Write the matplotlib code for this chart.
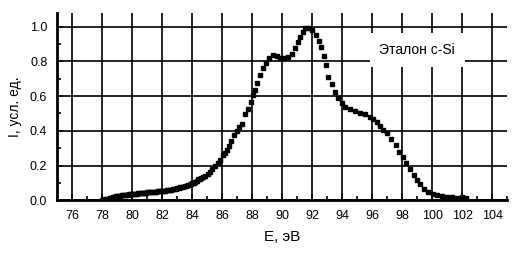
import matplotlib
matplotlib.use("Agg")
import matplotlib.pyplot as plt
from matplotlib.ticker import MultipleLocator

plt.rcParams["font.family"] = ["Liberation Sans", "DejaVu Sans"]

# photon energy, eV
energy = [
    78.0, 78.1, 78.2, 78.3, 78.4, 78.5, 78.6, 78.7, 78.8, 78.9,
    79.0, 79.1, 79.2, 79.3, 79.4, 79.5, 79.6, 79.7, 79.8, 79.9,
    80.0, 80.1, 80.2, 80.3, 80.4, 80.5, 80.6, 80.7, 80.8, 80.9,
    81.0, 81.1, 81.2, 81.3, 81.4, 81.5, 81.6, 81.7, 81.8, 81.9,
    82.0, 82.1, 82.2, 82.3, 82.4, 82.5, 82.6, 82.7, 82.8, 82.9,
    83.0, 83.1, 83.2, 83.3, 83.4, 83.5, 83.6, 83.7, 83.8, 83.9,
    84.0, 84.1, 84.2, 84.3, 84.4, 84.5, 84.6, 84.7, 84.87, 85.05,
    85.2, 85.35, 85.53, 85.7, 85.87, 86.09, 86.22, 86.35, 86.48, 86.6,
    86.82, 87.02, 87.15, 87.31, 87.53, 87.76, 87.92, 88.09, 88.2, 88.33,
    88.53, 88.75, 88.91, 89.13, 89.42, 89.64, 89.87, 90.15, 90.42, 90.64,
    90.87, 91.04, 91.2, 91.38, 91.53, 91.76, 91.98, 92.27, 92.45, 92.6,
    92.8, 92.91, 93.09, 93.31, 93.53, 93.75, 93.98, 94.2, 94.53, 94.87,
    95.2, 95.53, 95.87, 96.09, 96.31, 96.53, 96.75, 96.98, 97.27, 97.6,
    97.82, 98.04, 98.27, 98.53, 98.76, 98.98, 99.2, 99.49, 99.75, 100.04,
    100.31, 100.64, 100.98, 101.31, 101.64, 101.98, 102.27,
]
# intensity, arb. units
intensity = [
    0.000, 0.003, 0.005, 0.008, 0.010, 0.013, 0.015, 0.018, 0.020, 0.022,
    0.024, 0.026, 0.027, 0.028, 0.030, 0.031, 0.032, 0.033, 0.034, 0.035,
    0.036, 0.037, 0.038, 0.039, 0.040, 0.041, 0.041, 0.042, 0.043, 0.044,
    0.045, 0.045, 0.046, 0.047, 0.048, 0.049, 0.050, 0.051, 0.052, 0.053,
    0.054, 0.055, 0.056, 0.057, 0.059, 0.060, 0.062, 0.064, 0.066, 0.068,
    0.070, 0.072, 0.074, 0.076, 0.079, 0.082, 0.085, 0.088, 0.091, 0.094,
    0.097, 0.102, 0.108, 0.114, 0.120, 0.125, 0.131, 0.136, 0.142, 0.152,
    0.165, 0.180, 0.198, 0.214, 0.232, 0.261, 0.275, 0.290, 0.312, 0.343,
    0.374, 0.401, 0.420, 0.440, 0.497, 0.524, 0.565, 0.607, 0.635, 0.677,
    0.720, 0.760, 0.793, 0.822, 0.837, 0.833, 0.822, 0.818, 0.827, 0.841,
    0.876, 0.910, 0.942, 0.971, 0.990, 0.994, 0.981, 0.952, 0.920, 0.885,
    0.833, 0.779, 0.710, 0.670, 0.626, 0.587, 0.559, 0.539, 0.524, 0.514,
    0.505, 0.495, 0.482, 0.467, 0.449, 0.428, 0.407, 0.386, 0.353, 0.318,
    0.280, 0.251, 0.213, 0.179, 0.146, 0.117, 0.092, 0.065, 0.050, 0.036,
    0.029, 0.025, 0.021, 0.017, 0.015, 0.017, 0.012,
]

fig = plt.figure(figsize=(5.24, 2.59), dpi=100)
ax = fig.add_axes([0.1088, 0.2266, 0.859, 0.724])

ax.plot(energy, intensity, linestyle="none", marker="s", markersize=3.3,
        color="black", zorder=3)

ax.set_xlim(75, 105)
ax.set_ylim(0, 1.08)
ax.xaxis.set_minor_locator(MultipleLocator(1))
ax.yaxis.set_minor_locator(MultipleLocator(0.1))
ax.set_xticks(range(76, 105, 2))
ax.set_yticks([0.0, 0.2, 0.4, 0.6, 0.8, 1.0])
ax.set_yticklabels(["0.0", "0.2", "0.4", "0.6", "0.8", "1.0"])

ax.grid(True, which="major", color="black", linewidth=1.2)
ax.set_axisbelow(True)

for side in ("top", "right"):
    ax.spines[side].set_visible(False)
for side in ("left", "bottom"):
    ax.spines[side].set_linewidth(2.0)

ax.tick_params(which="major", direction="in", length=4, width=1.2,
               labelsize=9, pad=7)
ax.tick_params(which="minor", direction="in", length=3, width=1.2)

ax.set_xlabel("E, эВ", fontsize=11, labelpad=6)
ax.set_ylabel("I, усл. ед.", fontsize=10, labelpad=6)

ax.text(99.0, 0.866, "Эталон c-Si", fontsize=10, ha="center", va="center",
        bbox=dict(facecolor="white", edgecolor="none", pad=7), zorder=4)

fig.savefig("out.png", dpi=100)
